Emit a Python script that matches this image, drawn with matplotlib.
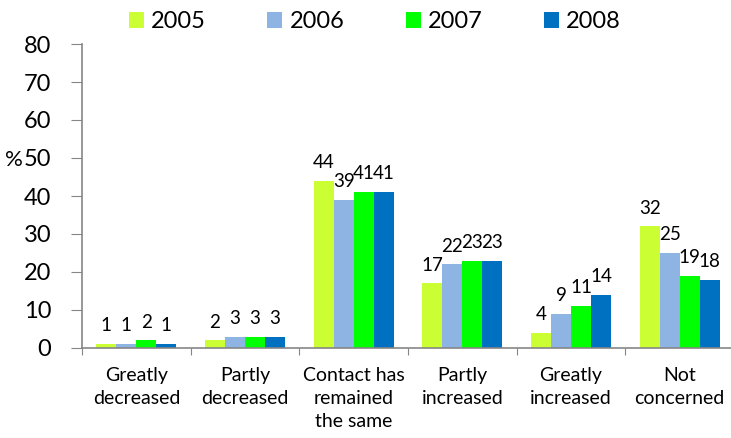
import matplotlib.pyplot as plt
import numpy as np

categories = ["Greatly\ndecreased", "Partly\ndecreased", "Contact has\nremained\nthe same",
              "Partly\nincreased", "Greatly\nincreased", "Not\nconcerned"]
years = ["2005", "2006", "2007", "2008"]
v2005 = [1, 2, 44, 17, 4, 32]
v2006 = [1, 3, 39, 22, 9, 25]
v2007 = [2, 3, 41, 23, 11, 19]
v2008 = [1, 3, 41, 23, 14, 18]
colors = ["#ccff33", "#8db4e2", "#00ff00", "#0070c0"]

plt.rcParams['font.family'] = ['Lato', 'DejaVu Sans']

fig = plt.figure(figsize=(7.31, 4.38), dpi=100)
W, H = 731, 438
ax = fig.add_axes([82 / W, (H - 348) / H, (734 - 82) / W, (348 - 44) / H])

series = [v2005, v2006, v2007, v2008]
x = np.arange(len(categories))
bw = 0.184
for i, (vals, c, yr) in enumerate(zip(series, colors, years)):
    pos = x + (i - 1.5) * bw
    ax.bar(pos, vals, bw, color=c, label=yr, zorder=2)
    for p, v in zip(pos, vals):
        ax.annotate(str(v), (p, v), xytext=(0, 7), textcoords="offset points",
                    ha="center", va="bottom", fontsize=13.5, color="#000000")

ax.set_xlim(-0.5, len(categories) - 0.5)
ax.set_ylim(0, 80)
ax.set_yticks(range(0, 81, 10))
ax.set_xticks(np.arange(len(categories) + 1) - 0.5, minor=False)
ax.set_xticklabels([])
ax.set_xticks(x, minor=True)
ax.set_xticklabels(categories, minor=True, fontsize=14, linespacing=1.4)
ax.tick_params(axis="x", which="minor", length=0, pad=14)
ax.tick_params(axis="x", which="major", direction="out", length=5, color="#868686")
ax.tick_params(axis="y", direction="out", length=8, color="#868686", labelsize=17, pad=14)

for s in ["top", "right"]:
    ax.spines[s].set_visible(False)
for s in ["left", "bottom"]:
    ax.spines[s].set_color("#868686")
    ax.spines[s].set_linewidth(1.2)

fig.text(14 / W, 1 - 160 / H, "%", fontsize=16, ha="center", va="center")

fig.legend(loc="center", bbox_to_anchor=(375 / W, 1 - 22 / H), ncol=4, frameon=False,
           fontsize=17, handlelength=0.64, handleheight=0.64, handletextpad=0.3,
           columnspacing=2.6)

fig.savefig("out.png", dpi=100)
